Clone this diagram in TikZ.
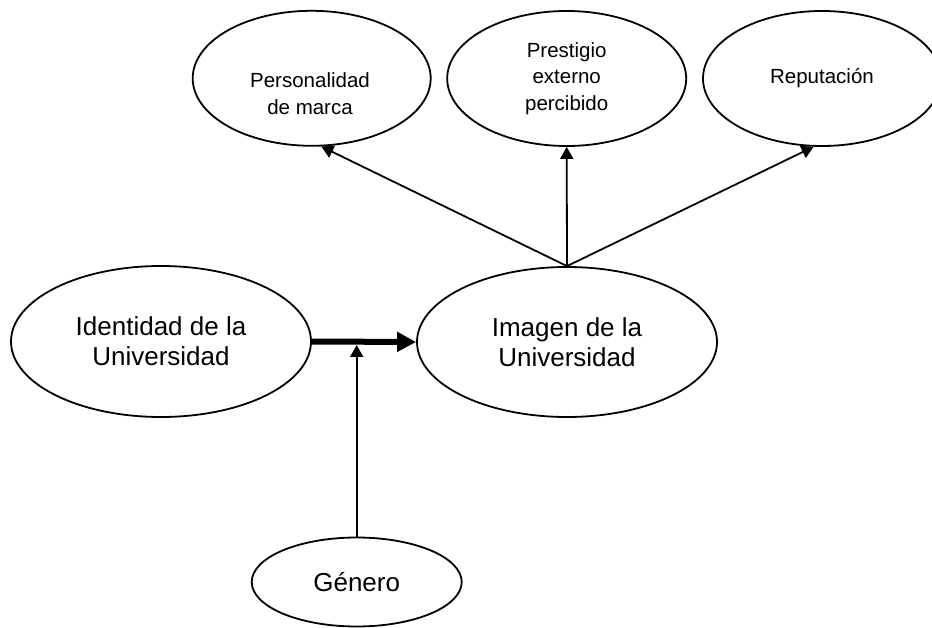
\documentclass[tikz,border=0pt]{standalone}
\usepackage{fontspec}
\setmainfont{Liberation Sans}
\usetikzlibrary{shapes.geometric,arrows.meta}
\begin{document}
\begin{tikzpicture}[x=1pt,y=-1pt,
  oval/.style={ellipse,draw,line width=1.8pt,inner sep=0pt},
  small/.style={font=\fontsize{20.5}{26.5}\selectfont,align=center,inner sep=0pt},
  big/.style={font=\fontsize{26}{30}\selectfont,align=center,inner sep=0pt},
  thinarrow/.style={line width=1.8pt,-{Triangle[length=12pt,width=13pt]}},
  thickarrow/.style={line width=6pt,-{Triangle[length=19pt,width=19pt]}}]
\useasboundingbox (0,0) rectangle (932,628);
\node[oval,minimum width=238pt,minimum height=135pt] (pm) at (311.7,78.3) {};
\node[small] (pmt) at (310,93.5) {Personalidad\\de marca};
\node[oval,small,minimum width=239pt,minimum height=135pt] (pp) at (566.7,78.5) {Prestigio\\externo\\percibido};
\node[oval,small,minimum width=238pt,minimum height=135pt] (rp) at (822,78.5) {Reputación};
\node[oval,big,minimum width=300pt,minimum height=151pt] (id) at (161,341.5) {Identidad de la\\Universidad};
\node[oval,big,minimum width=300pt,minimum height=150pt] (im) at (567,342) {Imagen de la\\Universidad};
\node[oval,big,minimum width=210pt,minimum height=89pt] (ge) at (356.7,582) {Género};
\draw[thinarrow] (im.north) -- (pm.-82);
\draw[thinarrow] (im.north) -- (pp.south);
\draw[thinarrow] (im.north) -- (rp.-97);
\draw[thickarrow] (id.east) -- (im.west);
\coordinate (mod) at (ge.north |- id.east);
\draw[thinarrow,shorten >=3.5pt] (ge.north) -- (mod);
\end{tikzpicture}
\end{document}
